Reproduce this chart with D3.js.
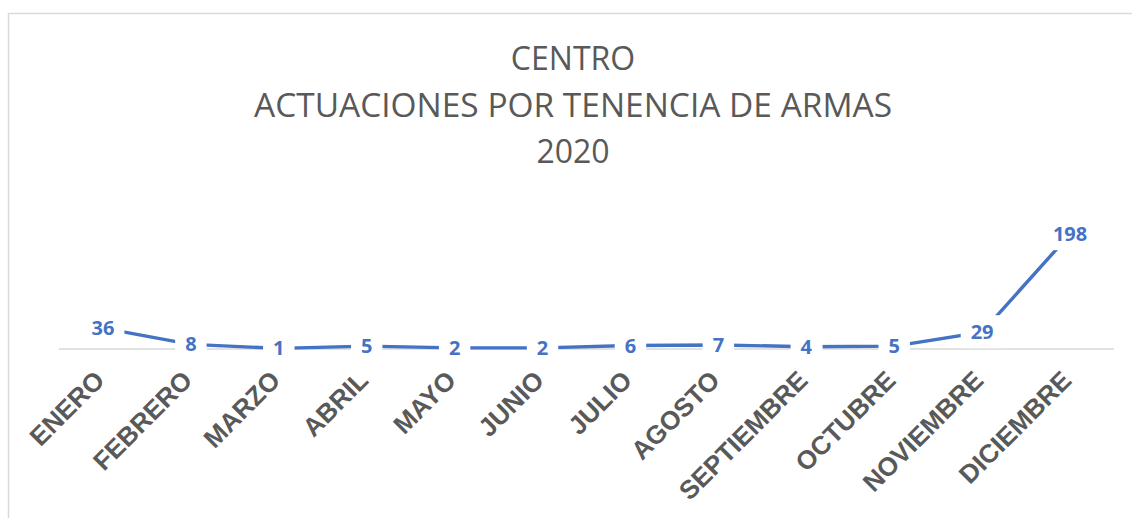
<!DOCTYPE html>
<html>
<head>
<meta charset="utf-8">
<script src="https://cdn.jsdelivr.net/npm/d3@7"></script>
<style>
  body { margin: 0; background: #fff; }
</style>
</head>
<body>
<svg id="chart" width="1132" height="518"></svg>
<script>
const months = ["ENERO", "FEBRERO", "MARZO", "ABRIL", "MAYO", "JUNIO",
  "JULIO", "AGOSTO", "SEPTIEMBRE", "OCTUBRE", "NOVIEMBRE", "DICIEMBRE"];
const values = [36, 8, 1, 5, 2, 2, 6, 7, 4, 5, 29, 198];
const titleLines = ["CENTRO", "ACTUACIONES POR TENENCIA DE ARMAS", "2020"];

const svg = d3.select("#chart");
const blue = "#4472c4";
const gray = "#595959";

// chart frame (runs off the right / bottom edge like the source)
svg.append("rect")
  .attr("x", 8.5).attr("y", 13.5)
  .attr("width", 1200).attr("height", 600)
  .attr("fill", "none")
  .attr("stroke", "#d9d9d9")
  .attr("stroke-width", 1.5);

// title
svg.append("g")
  .selectAll("text")
  .data(titleLines)
  .join("text")
  .attr("x", 573)
  .attr("y", (d, i) => 70 + i * 46.5)
  .attr("text-anchor", "middle")
  .attr("font-family", "Open Sans, sans-serif")
  .attr("font-size", 32)
  .attr("fill", gray)
  .attr("textLength", d => d.length > 10 ? 638 : null)
  .attr("lengthAdjust", "spacingAndGlyphs")
  .text(d => d);

const x = d3.scaleBand()
  .domain(months)
  .range([59, 1114]);

const y = d3.scaleLinear()
  .domain([0, 250])
  .range([349, 204]);

// baseline
svg.append("line")
  .attr("x1", x.range()[0]).attr("x2", x.range()[1])
  .attr("y1", y(0)).attr("y2", y(0))
  .attr("stroke", "#d9d9d9")
  .attr("stroke-width", 1.5);

// month labels
const xAxis = d3.axisBottom(x).tickSize(0).tickPadding(0);
const gx = svg.append("g")
  .attr("transform", `translate(0,${y(0)})`)
  .call(xAxis);
gx.select(".domain").remove();
gx.selectAll("text")
  .attr("font-family", "Liberation Sans, Arial, sans-serif")
  .attr("font-weight", "bold")
  .attr("font-size", 26)
  .attr("fill", gray)
  .attr("text-anchor", "end")
  .attr("dy", 0)
  .attr("transform", "translate(3,33) rotate(-45)");

const pts = months.map((m, i) => ({ m, v: values[i] }));
const cx = d => x(d.m) + x.bandwidth() / 2;

const line = d3.line()
  .x(cx)
  .y(d => y(d.v));

svg.append("path")
  .datum(pts)
  .attr("d", line)
  .attr("fill", "none")
  .attr("stroke", blue)
  .attr("stroke-width", 3.4)
  .attr("stroke-linecap", "round");

// data labels with white boxes covering the line
const lab = svg.append("g")
  .selectAll("g")
  .data(pts)
  .join("g")
  .attr("transform", d => `translate(${cx(d)},${y(d.v)})`);

lab.append("text")
  .attr("text-anchor", "middle")
  .attr("dy", "0.35em")
  .attr("font-family", "Open Sans, sans-serif")
  .attr("font-weight", "bold")
  .attr("font-size", 20)
  .attr("fill", blue)
  .text(d => d.v)
  .each(function () {
    const b = this.getBBox();
    d3.select(this.parentNode).insert("rect", "text")
      .attr("x", b.x - 10).attr("y", b.y - 3)
      .attr("width", b.width + 20).attr("height", b.height + 6)
      .attr("fill", "#fff");
  });
</script>
</body>
</html>
